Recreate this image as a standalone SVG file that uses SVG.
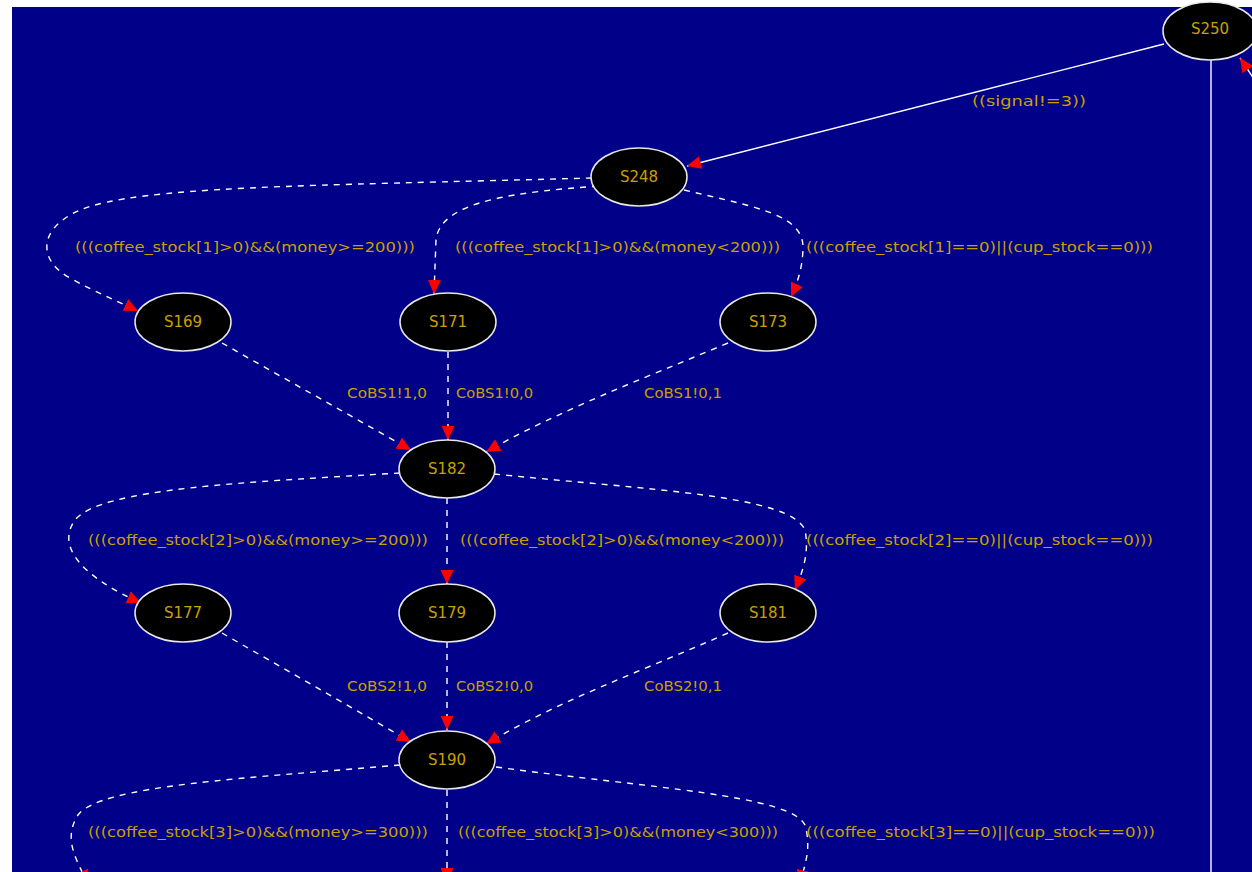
<svg xmlns="http://www.w3.org/2000/svg" width="1252" height="872" viewBox="0 0 1252 872">
<style>
.bg{fill:#000088}
.node ellipse{fill:#000000;stroke:#e8e8e8;stroke-width:1.5}
.node text{fill:#c8a000;font-family:"DejaVu Sans","Liberation Sans",sans-serif;font-size:15px;text-anchor:middle}
.lbl{fill:#c8a000;font-family:"DejaVu Sans","Liberation Sans",sans-serif;font-size:14px}
.e{fill:none;stroke:#ffffff;stroke-width:1.4;stroke-dasharray:6,6;marker-end:url(#ah)}
.s{fill:none;stroke:#ffffff;stroke-width:1.4}
</style>
<defs>
<marker id="ah" markerUnits="userSpaceOnUse" markerWidth="15" markerHeight="13" refX="14" refY="6.5" orient="auto">
<path d="M0,0 L14,6.5 L0,13 Z" fill="#ff0000"/>
</marker>
</defs>
<rect x="0" y="0" width="1252" height="872" fill="#ffffff"/>
<rect class="bg" x="12" y="7" width="1240" height="865"/>
<g id="connectors">
<path class="s" d="M1164,44 L687,166" marker-end="url(#ah)"/>
<path class="s" d="M1211,60 L1211,872"/>
<path class="s" d="M1256,82 L1240,58" marker-end="url(#ah)"/>
<path class="e" d="M592,178 C300,186 140,186 80,210 C35,230 40,262 70,278 C95,292 115,300 138,311"/>
<path class="e" d="M598,186 C520,192 440,200 436,240 L434,294"/>
<path class="e" d="M684,190 C760,208 805,215 803,250 C802,270 797,284 791,297"/>
<path class="e" d="M222,343 L411,450"/>
<path class="e" d="M448,352 L448,440"/>
<path class="e" d="M728,343 C640,380 560,410 486,452"/>
<path class="e" d="M400,473 C250,482 100,488 75,520 C55,548 85,578 141,603"/>
<path class="e" d="M447,498 L447,584"/>
<path class="e" d="M494,474 C650,490 790,495 805,530 C810,555 801,575 795,590"/>
<path class="e" d="M222,633 L411,742"/>
<path class="e" d="M447,642 L447,730"/>
<path class="e" d="M728,633 C640,672 560,700 486,744"/>
<path class="e" d="M400,765 C250,778 100,785 78,815 C62,840 78,862 88,884"/>
<path class="e" d="M447,790 L447,882"/>
<path class="e" d="M496,767 C650,788 790,795 805,825 C812,850 804,866 800,884"/>
</g>
<g id="labels">
<text class="lbl" x="972" y="106" textLength="114" lengthAdjust="spacingAndGlyphs">((signal!=3))</text>
<text class="lbl" x="75" y="252" textLength="340" lengthAdjust="spacingAndGlyphs">(((coffee_stock[1]&gt;0)&amp;&amp;(money&gt;=200)))</text>
<text class="lbl" x="455" y="252" textLength="325" lengthAdjust="spacingAndGlyphs">(((coffee_stock[1]&gt;0)&amp;&amp;(money&lt;200)))</text>
<text class="lbl" x="806" y="252" textLength="347" lengthAdjust="spacingAndGlyphs">(((coffee_stock[1]==0)||(cup_stock==0)))</text>
<text class="lbl" x="347" y="398" textLength="80" lengthAdjust="spacingAndGlyphs">CoBS1!1,0</text>
<text class="lbl" x="456" y="398" textLength="77" lengthAdjust="spacingAndGlyphs">CoBS1!0,0</text>
<text class="lbl" x="644" y="398" textLength="78" lengthAdjust="spacingAndGlyphs">CoBS1!0,1</text>
<text class="lbl" x="88" y="545" textLength="340" lengthAdjust="spacingAndGlyphs">(((coffee_stock[2]&gt;0)&amp;&amp;(money&gt;=200)))</text>
<text class="lbl" x="460" y="545" textLength="324" lengthAdjust="spacingAndGlyphs">(((coffee_stock[2]&gt;0)&amp;&amp;(money&lt;200)))</text>
<text class="lbl" x="806" y="545" textLength="347" lengthAdjust="spacingAndGlyphs">(((coffee_stock[2]==0)||(cup_stock==0)))</text>
<text class="lbl" x="347" y="691" textLength="80" lengthAdjust="spacingAndGlyphs">CoBS2!1,0</text>
<text class="lbl" x="456" y="691" textLength="77" lengthAdjust="spacingAndGlyphs">CoBS2!0,0</text>
<text class="lbl" x="644" y="691" textLength="78" lengthAdjust="spacingAndGlyphs">CoBS2!0,1</text>
<text class="lbl" x="88" y="837" textLength="340" lengthAdjust="spacingAndGlyphs">(((coffee_stock[3]&gt;0)&amp;&amp;(money&gt;=300)))</text>
<text class="lbl" x="458" y="837" textLength="320" lengthAdjust="spacingAndGlyphs">(((coffee_stock[3]&gt;0)&amp;&amp;(money&lt;300)))</text>
<text class="lbl" x="806" y="837" textLength="349" lengthAdjust="spacingAndGlyphs">(((coffee_stock[3]==0)||(cup_stock==0)))</text>
</g>
<g id="S250" class="node"><ellipse cx="1210" cy="31" rx="47" ry="29"/><text x="1210" y="34">S250</text></g>
<g id="S248" class="node"><ellipse cx="639" cy="177" rx="48" ry="29"/><text x="639" y="182">S248</text></g>
<g id="S169" class="node"><ellipse cx="183" cy="322" rx="48" ry="29"/><text x="183" y="327">S169</text></g>
<g id="S171" class="node"><ellipse cx="448" cy="322" rx="48" ry="29"/><text x="448" y="327">S171</text></g>
<g id="S173" class="node"><ellipse cx="768" cy="322" rx="48" ry="29"/><text x="768" y="327">S173</text></g>
<g id="S182" class="node"><ellipse cx="447" cy="469" rx="48" ry="29"/><text x="447" y="474">S182</text></g>
<g id="S177" class="node"><ellipse cx="183" cy="613" rx="48" ry="29"/><text x="183" y="618">S177</text></g>
<g id="S179" class="node"><ellipse cx="447" cy="613" rx="48" ry="29"/><text x="447" y="618">S179</text></g>
<g id="S181" class="node"><ellipse cx="768" cy="613" rx="48" ry="29"/><text x="768" y="618">S181</text></g>
<g id="S190" class="node"><ellipse cx="447" cy="760" rx="48" ry="29"/><text x="447" y="765">S190</text></g>
</svg>
